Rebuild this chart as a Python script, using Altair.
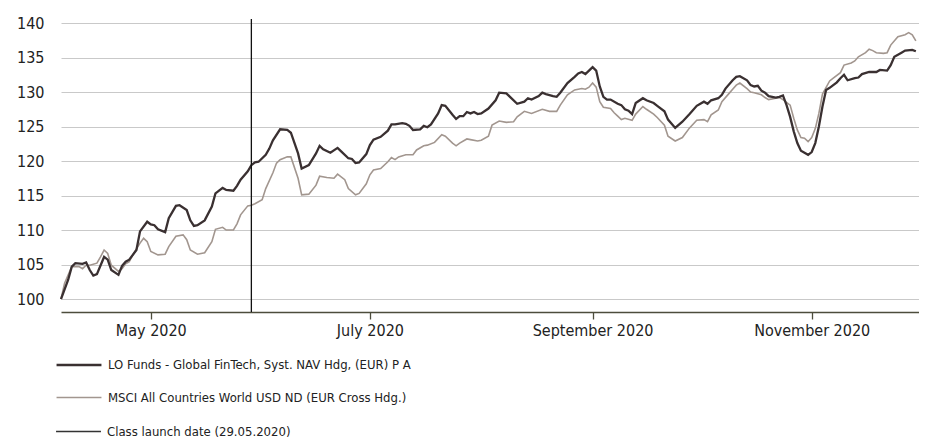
import altair as alt
import pandas as pd

FUND = "LO Funds - Global FinTech, Syst. NAV Hdg, (EUR) P A"
BENCH = "MSCI All Countries World USD ND (EUR Cross Hdg.)"
LAUNCH = "Class launch date (29.05.2020)"

fund_dates = [
    "04-06", "04-08", "04-09", "04-10", "04-12", "04-13", "04-14", "04-15", "04-16", "04-18",
    "04-19", "04-20", "04-22", "04-23", "04-24", "04-25", "04-27", "04-28", "04-30", "05-01",
    "05-02", "05-03", "05-05", "05-06", "05-08", "05-09", "05-11", "05-12", "05-13", "05-14",
    "05-16", "05-18", "05-19", "05-21", "05-22", "05-24", "05-25", "05-26", "05-28", "05-29",
    "05-30", "05-31", "06-02", "06-03", "06-04", "06-06", "06-08", "06-09", "06-11", "06-12",
    "06-14", "06-16", "06-17", "06-18", "06-20", "06-22", "06-23", "06-25", "06-26", "06-27",
    "06-28", "06-30", "07-01", "07-02", "07-04", "07-06", "07-07", "07-08", "07-10", "07-11",
    "07-12", "07-13", "07-15", "07-16", "07-17", "07-18", "07-20", "07-21", "07-22", "07-24",
    "07-25", "07-26", "07-27", "07-28", "07-29", "07-30", "07-31", "08-01", "08-03", "08-05",
    "08-06", "08-08", "08-09", "08-11", "08-13", "08-14", "08-15", "08-17", "08-18", "08-19",
    "08-21", "08-22", "08-23", "08-25", "08-27", "08-28", "08-29", "08-30", "08-31", "09-01",
    "09-02", "09-03", "09-04", "09-05", "09-06", "09-08", "09-09", "09-10", "09-11", "09-12",
    "09-13", "09-15", "09-16", "09-18", "09-19", "09-21", "09-22", "09-24", "09-26", "09-28",
    "09-30", "10-02", "10-03", "10-04", "10-06", "10-07", "10-08", "10-10", "10-11", "10-12",
    "10-14", "10-15", "10-16", "10-17", "10-18", "10-19", "10-20", "10-22", "10-23", "10-24",
    "10-25", "10-26", "10-27", "10-28", "10-29", "10-30", "10-31", "11-01", "11-02", "11-03",
    "11-04", "11-05", "11-06", "11-08", "11-09", "11-10", "11-11", "11-13", "11-14", "11-15",
    "11-17", "11-18", "11-19", "11-20", "11-22", "11-23", "11-24", "11-26", "11-27", "11-29",
    "11-30",
]
fund_values = [
    100.0, 102.8, 104.7, 105.2, 105.1, 105.3, 104.2, 103.4, 103.6, 106.1,
    105.7, 104.2, 103.5, 104.8, 105.4, 105.7, 107.1, 109.8, 111.2, 110.8,
    110.7, 110.1, 109.7, 111.7, 113.5, 113.6, 112.9, 111.4, 110.6, 110.7,
    111.4, 113.4, 115.3, 116.1, 115.8, 115.7, 116.4, 117.3, 118.5, 119.4,
    119.8, 119.9, 120.9, 121.8, 123.0, 124.6, 124.5, 124.1, 121.1, 118.9,
    119.4, 121.1, 122.2, 121.7, 121.2, 121.9, 121.4, 120.4, 120.3, 119.7,
    119.8, 121.0, 122.3, 123.1, 123.5, 124.4, 125.3, 125.3, 125.5, 125.4,
    125.1, 124.5, 124.6, 125.1, 124.9, 125.3, 126.9, 128.1, 128.0, 126.7,
    126.1, 126.5, 126.5, 127.1, 126.9, 127.1, 126.8, 126.9, 127.6, 128.8,
    129.9, 129.8, 129.3, 128.3, 128.6, 129.1, 128.9, 129.4, 129.9, 129.7,
    129.4, 129.3, 129.9, 131.3, 132.2, 132.7, 132.9, 132.6, 133.1, 133.6,
    133.1, 130.8, 129.3, 128.9, 128.9, 128.3, 128.1, 127.5, 127.3, 126.8,
    128.4, 129.1, 128.8, 128.4, 128.0, 127.2, 126.0, 124.8, 125.7, 126.8,
    128.0, 128.6, 128.3, 128.8, 129.1, 129.6, 130.5, 131.7, 132.2, 132.3,
    131.7, 131.0, 130.8, 130.9, 130.2, 129.9, 129.4, 129.2, 129.3, 129.5,
    128.1, 126.4, 124.3, 122.6, 121.5, 121.2, 120.9, 121.3, 122.6, 125.0,
    127.9, 130.3, 130.6, 131.4, 132.0, 132.5, 131.7, 132.0, 132.1, 132.6,
    132.9, 132.9, 132.9, 133.2, 133.1, 133.9, 135.1, 135.7, 136.0, 136.1,
    135.9,
]

bench_dates = [
    "04-06", "04-07", "04-09", "04-11", "04-12", "04-13", "04-14", "04-16", "04-17", "04-18",
    "04-19", "04-20", "04-22", "04-23", "04-24", "04-25", "04-26", "04-28", "04-29", "04-30",
    "05-01", "05-03", "05-05", "05-06", "05-08", "05-10", "05-11", "05-12", "05-14", "05-16",
    "05-18", "05-19", "05-21", "05-22", "05-24", "05-25", "05-26", "05-28", "05-29", "05-30",
    "06-01", "06-02", "06-04", "06-05", "06-06", "06-08", "06-09", "06-11", "06-12", "06-14",
    "06-16", "06-17", "06-19", "06-21", "06-22", "06-24", "06-25", "06-27", "06-28", "06-30",
    "07-01", "07-02", "07-04", "07-06", "07-07", "07-08", "07-09", "07-11", "07-13", "07-14",
    "07-16", "07-17", "07-19", "07-21", "07-22", "07-24", "07-25", "07-26", "07-28", "07-29",
    "07-31", "08-01", "08-03", "08-04", "08-06", "08-08", "08-10", "08-11", "08-13", "08-15",
    "08-18", "08-20", "08-22", "08-23", "08-25", "08-27", "08-29", "08-30", "08-31", "09-01",
    "09-02", "09-03", "09-04", "09-06", "09-07", "09-08", "09-09", "09-10", "09-12", "09-13",
    "09-15", "09-16", "09-18", "09-19", "09-21", "09-22", "09-24", "09-26", "09-28", "09-30",
    "10-02", "10-03", "10-04", "10-06", "10-07", "10-09", "10-10", "10-11", "10-12", "10-14",
    "10-15", "10-16", "10-18", "10-19", "10-20", "10-22", "10-23", "10-24", "10-26", "10-27",
    "10-28", "10-29", "10-30", "10-31", "11-01", "11-02", "11-03", "11-04", "11-06", "11-07",
    "11-09", "11-10", "11-12", "11-13", "11-14", "11-16", "11-17", "11-18", "11-19", "11-21",
    "11-22", "11-23", "11-25", "11-27", "11-28", "11-29", "11-30",
]
bench_values = [
    100.0, 102.3, 104.7, 104.7, 104.4, 104.9, 104.9, 105.2, 106.1, 107.1,
    106.6, 104.9, 104.0, 104.4, 105.1, 105.4, 106.4, 108.1, 108.8, 108.3,
    106.9, 106.4, 106.5, 107.6, 109.1, 109.3, 108.6, 107.1, 106.5, 106.7,
    108.3, 110.1, 110.4, 110.0, 110.0, 110.9, 112.2, 113.5, 113.6, 113.8,
    114.4, 116.0, 118.3, 119.7, 120.2, 120.6, 120.6, 117.5, 115.1, 115.2,
    116.5, 117.8, 117.6, 117.5, 118.1, 117.3, 116.0, 115.1, 115.3, 116.7,
    118.0, 118.7, 118.9, 119.9, 120.5, 120.2, 120.6, 120.9, 120.9, 121.6,
    122.2, 122.3, 122.7, 123.8, 123.6, 122.6, 122.2, 122.6, 123.2, 123.1,
    122.9, 123.0, 123.6, 125.2, 125.8, 125.6, 125.7, 126.4, 127.2, 126.9,
    127.5, 127.2, 127.2, 128.1, 129.6, 130.3, 130.5, 130.4, 130.7, 131.3,
    130.7, 128.6, 127.8, 127.6, 127.0, 126.5, 126.0, 126.2, 125.9, 126.8,
    127.9, 127.5, 126.8, 126.3, 125.2, 123.6, 122.9, 123.4, 124.8, 125.9,
    126.0, 125.7, 126.7, 127.4, 128.6, 129.8, 130.4, 131.0, 131.3, 130.5,
    130.0, 129.9, 129.6, 129.2, 128.9, 129.1, 129.2, 128.9, 128.1, 126.2,
    124.5, 123.4, 123.3, 122.8, 123.4, 124.7, 126.9, 129.7, 131.6, 132.0,
    132.8, 133.9, 134.2, 134.5, 135.1, 135.7, 136.2, 136.0, 135.7, 135.6,
    135.7, 136.8, 138.0, 138.3, 138.6, 138.3, 137.4,
]

launch_dates = ["2020-05-29"]
x_tick_dates = [(2020, 5), (2020, 7), (2020, 9), (2020, 11)]
y_ticks = [100, 105, 110, 115, 120, 125, 130, 135, 140]

series_names = [FUND, BENCH]
series_colors = ["#3a3031", "#a2968f"]
series_widths = [2.3, 1.6]

df = pd.concat(
    [
        pd.DataFrame({"date": ["2020-" + d for d in bench_dates], "value": bench_values, "series": BENCH, "order": 0}),
        pd.DataFrame({"date": ["2020-" + d for d in fund_dates], "value": fund_values, "series": FUND, "order": 1}),
    ],
    ignore_index=True,
)
launch_df = pd.DataFrame({"date": launch_dates, "label": [LAUNCH]})

FONT = "Liberation Sans Narrow, DejaVu Sans Condensed, Roboto, sans-serif"
PLOT_W = 858
PLOT_H = 293
LEGEND_PATH = "M-4,0H4"   # a 45px horizontal stroke at the size below
LEGEND_SIZE = 126

x_scale = alt.Scale(
    type="utc",
    domain=[
        alt.DateTime(year=2020, month=4, date=6, utc=True),
        alt.DateTime(year=2020, month=11, date=30, hours=21, utc=True),
    ],
)

x_axis = alt.Axis(
    values=[alt.DateTime(year=y, month=m, date=1, utc=True) for y, m in x_tick_dates],
    labelExpr="utcFormat(datum.value, '%B %Y')",
    title=None,
    grid=False,
    domainColor="#4d4d3c",
    domainWidth=1.3,
    tickColor="#4d4d3c",
    tickWidth=1.3,
    tickSize=7,
    labelFont=FONT,
    labelFontSize=16,
    labelColor="#222222",
    labelPadding=3,
)

y_axis = alt.Axis(
    values=y_ticks,
    title=None,
    grid=True,
    gridColor="#c9c9c9",
    gridWidth=1.2,
    domain=False,
    ticks=False,
    labelFont=FONT,
    labelFontSize=16,
    labelColor="#222222",
    labelPadding=17,
)

legend_common = dict(
    orient="none",
    legendX=11,
    direction="vertical",
    title=None,
    symbolType=LEGEND_PATH,
    symbolSize=LEGEND_SIZE,
    labelFont=FONT,
    labelFontSize=13,
    labelColor="#222222",
    labelOffset=22,
    labelLimit=0,
    padding=0,
)

lines = (
    alt.Chart(df)
    .mark_line(interpolate="linear")
    .encode(
        x=alt.X("date:T", scale=x_scale, axis=x_axis),
        y=alt.Y("value:Q", scale=alt.Scale(domain=[98.12, 140.58], nice=False, zero=False), axis=y_axis),
        color=alt.Color(
            "series:N",
            scale=alt.Scale(domain=series_names, range=series_colors),
            legend=alt.Legend(legendY=339, symbolStrokeWidth=2.3, rowPadding=19, **legend_common),
        ),
        strokeWidth=alt.StrokeWidth(
            "series:N", scale=alt.Scale(domain=series_names, range=series_widths), legend=None
        ),
        order=alt.Order("order:Q"),
    )
)

rule = (
    alt.Chart(launch_df)
    .mark_rule(color="#111111", strokeWidth=1.3)
    .encode(
        x=alt.X("date:T", scale=x_scale),
        strokeDash=alt.StrokeDash(
            "label:N",
            scale=alt.Scale(domain=[LAUNCH], range=[[1, 0]]),
            legend=alt.Legend(
                legendY=406, symbolStrokeWidth=1.5, symbolStrokeColor="#333333", **legend_common
            ),
        ),
    )
)

chart = (
    alt.layer(lines, rule)
    .properties(
        width=PLOT_W,
        height=PLOT_H,
        autosize=alt.AutoSizeParams(type="none"),
        padding={"left": 53, "top": 11, "right": 0, "bottom": 126},
        background="white",
    )
    .configure_view(stroke=None)
)

chart.save("out.html", embed_options={"renderer": "svg", "actions": False})
